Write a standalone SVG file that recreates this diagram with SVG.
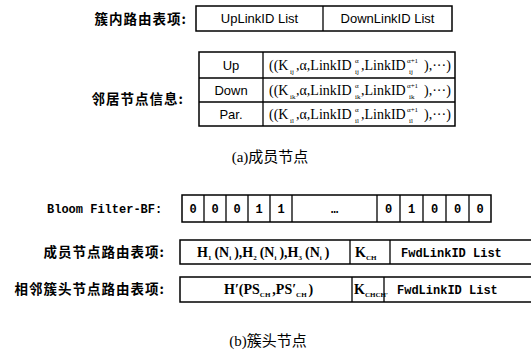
<svg xmlns="http://www.w3.org/2000/svg" width="531" height="360" viewBox="0 0 531 360">
<style>
.bg{fill:#fff}
.box{fill:#fff;stroke:#000;stroke-width:1.5}
.ln{stroke:#000;stroke-width:1.3;fill:none}
.cn{font-family:"Noto Sans CJK SC",sans-serif;font-weight:bold;font-size:13.5px;fill:#000;letter-spacing:1px}
.cap{font-family:"Liberation Serif","Noto Sans CJK SC",serif;font-size:15px;fill:#000}
.sans{font-family:"Liberation Sans",Arial,sans-serif;font-size:13px;fill:#000}
.mono{font-family:"Liberation Mono",monospace;font-weight:bold;font-size:12px;fill:#000}
.ser{font-family:"Liberation Serif",serif;font-size:14px;fill:#000}
.serb{font-family:"Liberation Serif",serif;font-size:14px;font-weight:bold;fill:#000}
.s{font-size:7px}
</style>
<rect class="bg" width="531" height="360"/>
<g id="connectors"></g>

<g id="cluster-route">
<text class="cn" x="187" y="24" text-anchor="end">簇内路由表项:</text>
<rect class="box" x="196" y="6" width="256" height="25"/>
<line class="ln" x1="323" y1="6" x2="323" y2="31"/>
<text class="sans" x="259.5" y="23" text-anchor="middle">UpLinkID List</text>
<text class="sans" x="387.5" y="23" text-anchor="middle">DownLinkID List</text>
</g>

<g id="neighbor-info">
<text class="cn" x="184" y="104" text-anchor="end">邻居节点信息:</text>
<rect class="box" x="199" y="52" width="256" height="74"/>
<line class="ln" x1="199" y1="78" x2="455" y2="78"/>
<line class="ln" x1="199" y1="102" x2="455" y2="102"/>
<line class="ln" x1="263" y1="52" x2="263" y2="126"/>
<text class="sans" x="231" y="70" text-anchor="middle">Up</text>
<text class="sans" x="231" y="95" text-anchor="middle">Down</text>
<text class="sans" x="231" y="119" text-anchor="middle">Par.</text>
<text class="ser" y="70"><tspan x="269">((K</tspan><tspan class="s" x="290" dy="4">ij</tspan><tspan x="296" dy="-4">,α,LinkID</tspan><tspan class="s" x="355" dy="-7">α</tspan><tspan class="s" x="355" dy="11">ij</tspan><tspan x="361" dy="-4">,LinkID</tspan><tspan class="s" x="407" dy="-7">α+1</tspan><tspan class="s" x="409" dy="11">ij</tspan><tspan x="424" dy="-4">),···)</tspan></text>
<text class="ser" y="95"><tspan x="269">((K</tspan><tspan class="s" x="290" dy="4">ik</tspan><tspan x="296" dy="-4">,α,LinkID</tspan><tspan class="s" x="355" dy="-7">α</tspan><tspan class="s" x="355" dy="11">ik</tspan><tspan x="361" dy="-4">,LinkID</tspan><tspan class="s" x="407" dy="-7">α+1</tspan><tspan class="s" x="409" dy="11">ik</tspan><tspan x="424" dy="-4">),···)</tspan></text>
<text class="ser" y="119"><tspan x="269">((K</tspan><tspan class="s" x="290" dy="4">il</tspan><tspan x="296" dy="-4">,α,LinkID</tspan><tspan class="s" x="355" dy="-7">α</tspan><tspan class="s" x="355" dy="11">il</tspan><tspan x="361" dy="-4">,LinkID</tspan><tspan class="s" x="407" dy="-7">α+1</tspan><tspan class="s" x="409" dy="11">il</tspan><tspan x="424" dy="-4">),···)</tspan></text>
</g>

<text class="cap" x="270" y="162" text-anchor="middle">(a)成员节点</text>

<g id="bloom-filter">
<text class="mono" x="47" y="213">Bloom Filter-BF:</text>
<rect class="box" x="182" y="195" width="309" height="27"/>
<line class="ln" x1="204" y1="195" x2="204" y2="222"/>
<line class="ln" x1="226" y1="195" x2="226" y2="222"/>
<line class="ln" x1="248" y1="195" x2="248" y2="222"/>
<line class="ln" x1="270" y1="195" x2="270" y2="222"/>
<line class="ln" x1="292" y1="195" x2="292" y2="222"/>
<line class="ln" x1="377" y1="195" x2="377" y2="222"/>
<line class="ln" x1="400" y1="195" x2="400" y2="222"/>
<line class="ln" x1="423" y1="195" x2="423" y2="222"/>
<line class="ln" x1="446" y1="195" x2="446" y2="222"/>
<line class="ln" x1="469" y1="195" x2="469" y2="222"/>
<g class="mono" text-anchor="middle">
<text x="193" y="213">0</text>
<text x="215" y="213">0</text>
<text x="237" y="213">0</text>
<text x="259" y="213">1</text>
<text x="281" y="213">1</text>
<text x="334.5" y="213">…</text>
<text x="388.5" y="213">0</text>
<text x="411.5" y="213">1</text>
<text x="434.5" y="213">0</text>
<text x="457.5" y="213">0</text>
<text x="480" y="213">0</text>
</g>
</g>

<g id="member-route">
<text class="cn" x="165" y="257" text-anchor="end">成员节点路由表项:</text>
<rect class="box" x="180" y="240" width="360" height="24"/>
<line class="ln" x1="350" y1="240" x2="350" y2="264"/>
<line class="ln" x1="390" y1="240" x2="390" y2="264"/>
<text class="serb" y="257"><tspan x="197">H</tspan><tspan class="s" dy="3">1</tspan><tspan dx="3" dy="-3">(N</tspan><tspan class="s" dy="3">i</tspan><tspan dx="3" dy="-3">),H</tspan><tspan class="s" dy="3">2</tspan><tspan dx="3" dy="-3">(N</tspan><tspan class="s" dy="3">i</tspan><tspan dx="3" dy="-3">),H</tspan><tspan class="s" dy="3">3</tspan><tspan dx="3" dy="-3">(N</tspan><tspan class="s" dy="3">i</tspan><tspan dx="3" dy="-3">)</tspan></text>
<text class="serb" y="257"><tspan x="355">K</tspan><tspan class="s" dy="3">CH</tspan></text>
<text class="mono" x="401" y="257">FwdLinkID List</text>
</g>

<g id="cluster-head-route">
<text class="cn" x="165" y="294" text-anchor="end">相邻簇头节点路由表项:</text>
<rect class="box" x="180" y="277" width="360" height="25"/>
<line class="ln" x1="352" y1="277" x2="352" y2="302"/>
<line class="ln" x1="384" y1="277" x2="384" y2="302"/>
<text class="serb" y="294"><tspan x="224">H′(PS</tspan><tspan class="s" dy="3">CH</tspan><tspan dx="2" dy="-3">,PS′</tspan><tspan class="s" dy="3">CH</tspan><tspan dx="2" dy="-3">)</tspan></text>
<text class="serb" y="294"><tspan x="354">K</tspan><tspan class="s" dy="3">CHCH′</tspan></text>
<text class="mono" x="397" y="294">FwdLinkID List</text>
</g>

<text class="cap" x="268" y="346" text-anchor="middle">(b)簇头节点</text>
</svg>
